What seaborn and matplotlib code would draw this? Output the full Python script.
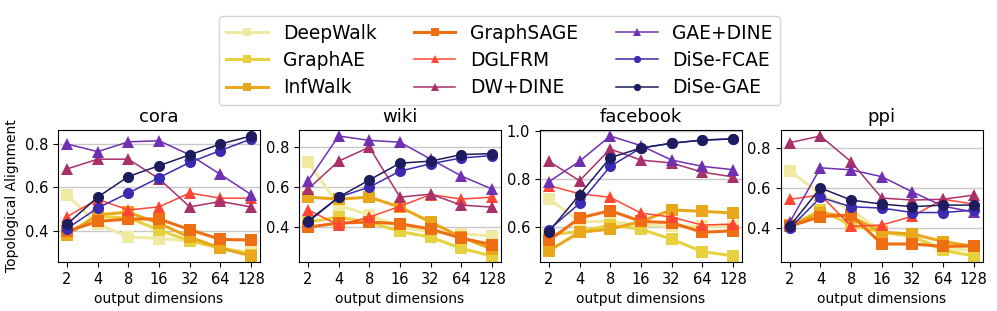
import numpy as np
import pandas as pd
import matplotlib
matplotlib.use("Agg")
import matplotlib.pyplot as plt
from matplotlib.ticker import MultipleLocator
import seaborn as sns

dims = ["2", "4", "8", "16", "32", "64", "128"]
datasets = ["cora", "wiki", "facebook", "ppi"]
methods = ["DeepWalk", "GraphAE", "InfWalk", "GraphSAGE", "DGLFRM",
           "DW+DINE", "GAE+DINE", "DiSe-FCAE", "DiSe-GAE"]

cora = {
    "DeepWalk":  [0.566, 0.43, 0.372, 0.364, 0.353, 0.32, 0.30],
    "GraphAE":   [0.39, 0.465, 0.46, 0.403, 0.353, 0.32, 0.29],
    "InfWalk":   [0.38, 0.474, 0.485, 0.434, 0.37, 0.32, 0.284],
    "GraphSAGE": [0.397, 0.443, 0.454, 0.454, 0.405, 0.36, 0.357],
    "DGLFRM":    [0.465, 0.545, 0.496, 0.51, 0.574, 0.55, 0.55],
    "DW+DINE":   [0.685, 0.73, 0.73, 0.64, 0.51, 0.535, 0.51],
    "GAE+DINE":  [0.80, 0.765, 0.81, 0.815, 0.75, 0.66, 0.567],
    "DiSe-FCAE": [0.41, 0.505, 0.574, 0.645, 0.715, 0.77, 0.823],
    "DiSe-GAE":  [0.43, 0.555, 0.65, 0.70, 0.75, 0.80, 0.837],
}
wiki = {
    "DeepWalk":  [0.726, 0.51, 0.46, 0.40, 0.375, 0.366, 0.357],
    "GraphAE":   [0.425, 0.45, 0.425, 0.378, 0.35, 0.293, 0.256],
    "InfWalk":   [0.55, 0.54, 0.55, 0.50, 0.425, 0.35, 0.29],
    "GraphSAGE": [0.40, 0.42, 0.425, 0.417, 0.39, 0.345, 0.312],
    "DGLFRM":    [0.487, 0.41, 0.45, 0.504, 0.563, 0.54, 0.55],
    "DW+DINE":   [0.59, 0.73, 0.80, 0.55, 0.565, 0.51, 0.50],
    "GAE+DINE":  [0.63, 0.856, 0.834, 0.825, 0.74, 0.656, 0.59],
    "DiSe-FCAE": [0.425, 0.55, 0.60, 0.68, 0.717, 0.746, 0.758],
    "DiSe-GAE":  [0.43, 0.55, 0.636, 0.72, 0.73, 0.763, 0.768],
}
facebook = {
    "DeepWalk":  [0.72, 0.625, 0.625, 0.61, 0.605, 0.605, 0.605],
    "GraphAE":   [0.57, 0.583, 0.61, 0.593, 0.551, 0.50, 0.482],
    "InfWalk":   [0.503, 0.58, 0.593, 0.625, 0.673, 0.667, 0.66],
    "GraphSAGE": [0.546, 0.639, 0.67, 0.625, 0.62, 0.58, 0.586],
    "DGLFRM":    [0.774, 0.74, 0.725, 0.66, 0.643, 0.61, 0.614],
    "DW+DINE":   [0.875, 0.794, 0.926, 0.88, 0.868, 0.83, 0.81],
    "GAE+DINE":  [0.79, 0.875, 0.98, 0.94, 0.88, 0.854, 0.84],
    "DiSe-FCAE": [0.59, 0.70, 0.854, 0.93, 0.95, 0.963, 0.968],
    "DiSe-GAE":  [0.583, 0.736, 0.89, 0.93, 0.95, 0.963, 0.968],
}
ppi = {
    "DeepWalk":  [0.684, 0.57, 0.49, 0.385, 0.36, 0.30, 0.29],
    "GraphAE":   [0.41, 0.49, 0.416, 0.38, 0.36, 0.29, 0.263],
    "InfWalk":   [0.416, 0.475, 0.458, 0.38, 0.372, 0.334, 0.31],
    "GraphSAGE": [0.41, 0.458, 0.466, 0.322, 0.322, 0.31, 0.312],
    "DGLFRM":    [0.544, 0.565, 0.41, 0.416, 0.46, 0.544, 0.52],
    "DW+DINE":   [0.825, 0.858, 0.73, 0.55, 0.54, 0.544, 0.565],
    "GAE+DINE":  [0.43, 0.70, 0.69, 0.656, 0.58, 0.51, 0.48],
    "DiSe-FCAE": [0.40, 0.553, 0.507, 0.50, 0.478, 0.478, 0.49],
    "DiSe-GAE":  [0.41, 0.60, 0.54, 0.52, 0.507, 0.515, 0.515],
}
results = [cora, wiki, facebook, ppi]

colors = {
    "DeepWalk": "#f0e9a2", "GraphAE": "#e8d140", "InfWalk": "#e9a81c",
    "GraphSAGE": "#ee6e12", "DGLFRM": "#ff4634", "DW+DINE": "#a8316a",
    "GAE+DINE": "#7030b2", "DiSe-FCAE": "#3b2bb0", "DiSe-GAE": "#1c1c5e",
}
markers = {m: "s" for m in methods[:4]}
markers.update({"DGLFRM": "^", "DW+DINE": "^", "GAE+DINE": "^",
                "DiSe-FCAE": "o", "DiSe-GAE": "o"})
widths = {m: 2.2 if markers[m] == "s" else 1.1 for m in methods}

fig, axes = plt.subplots(1, 4, figsize=(9.97, 3.11), dpi=100)
x = np.arange(len(dims))

for ax, name, res in zip(axes, datasets, results):
    for m in methods:
        df = pd.DataFrame({"x": x, "y": res[m]})
        sns.lineplot(data=df, x="x", y="y", ax=ax, color=colors[m], marker=markers[m],
                     markersize=8, markeredgewidth=0, linewidth=widths[m],
                     label=m, legend=False)
    ax.set_xticks(x)
    ax.set_xticklabels(dims, fontsize=10.5)
    ax.yaxis.set_major_locator(MultipleLocator(0.2))
    ax.tick_params(axis="y", labelsize=10.5)
    ax.set_title(name, fontsize=13)
    ax.set_xlabel("output dimensions", fontsize=10)
    ax.set_ylabel("")
    ax.yaxis.grid(True, color="#c8c8c8", linewidth=1)
    ax.set_axisbelow(True)

axes[0].set_ylabel("Topological Alignment", fontsize=10)

handles, labels = axes[0].get_legend_handles_labels()
fig.legend(handles, labels, loc="upper center", bbox_to_anchor=(0.501, 0.978), ncol=3,
           fontsize=13.4, markerscale=0.65, columnspacing=2.0, handlelength=2.25,
           labelspacing=0.45, borderpad=0.4)

plt.subplots_adjust(left=0.058, right=0.986, bottom=0.158, top=0.582, wspace=0.19)
fig.savefig("out.png", dpi=100)
